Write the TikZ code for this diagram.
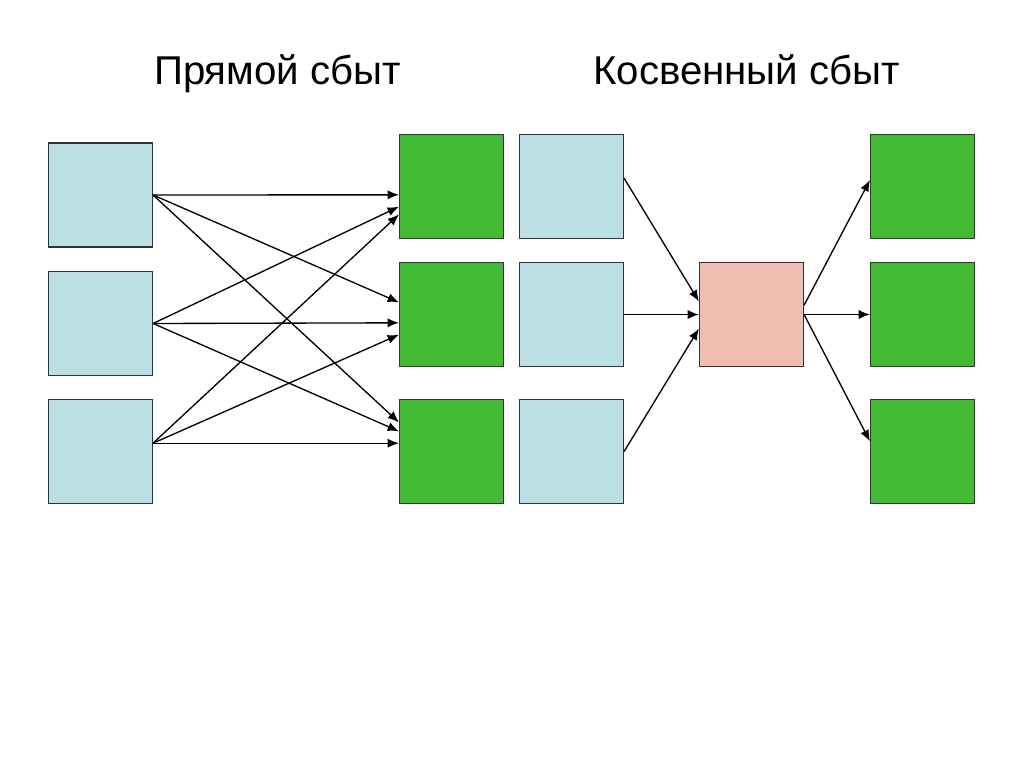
\documentclass[tikz,border=0pt]{standalone}
\usepackage{fontspec}
\setmainfont{Liberation Sans}
\usetikzlibrary{arrows.meta, positioning}
\definecolor{boxblue}{RGB}{187,224,227}
\definecolor{boxgreen}{RGB}{66,186,52}
\definecolor{boxpink}{RGB}{242,189,177}

\begin{document}
\begin{tikzpicture}[x=0.025cm, y=-0.025cm,
        sq/.style={draw=black!80, line width=0.8pt, inner sep=0pt,
            minimum width=2.6cm, minimum height=2.6cm},
        buyer/.style={sq, fill=boxblue},
        seller/.style={sq, fill=boxgreen},
        mid/.style={sq, fill=boxpink},
        sale/.style={line width=0.95pt, -{Latex[length=8pt, width=6.5pt]}},
        title/.style={anchor=base, font=\fontsize{28.6}{34}\selectfont}]
    \useasboundingbox (0,0) rectangle (1024,767);
    \node[title] (t1) at (277.5,85) {Прямой сбыт};
    \node[title] (t2) at (746.5,85) {Косвенный сбыт};
        \node[buyer] (b1) at (100.5,195) {};
        \node[buyer] (b2) at (100.5,323.5) {};
        \node[buyer] (b3) at (100.5,451.5) {};
        \node[seller] (g1) at (451.5,186.5) {};
        \node[seller] (g2) at (451.5,314.5) {};
        \node[seller] (g3) at (451.5,451.5) {};
        \draw[sale] (b1.east) -- (g1.189);
        \draw[sale] (b1.east) -- (g2.167);
        \draw[sale] (b1.east) -- (g3.151);
        \draw[sale] (b2.east) -- (g1.201);
        \draw[sale] (b2.east) -- (g2.189);
        \draw[sale] (b2.east) -- (g3.159);
        \draw[sale] (b3.9) -- (g1.208);
        \draw[sale] (b3.9) -- (g2.201);
        \draw[sale] (b3.9) -- (g3.171);
    \begin{scope}
        \node[buyer] (c1) at (571.5,186.5) {};
        \node[buyer] (c2) at (571.5,314.5) {};
        \node[buyer] (c3) at (571.5,451.5) {};
        \node[mid] (p) at (751.5,314.5) {};
        \node[seller] (h1) at (922.5,186.5) {};
        \node[seller] (h2) at (922.5,314.5) {};
        \node[seller] (h3) at (922.5,451.5) {};
        \draw[sale] (c1.9) -- (p.166);
        \draw[sale] (c2.east) -- (p.west);
        \draw[sale] (c3.east) -- (p.195);
        \draw[sale] (p.10) -- (h1.173);
        \draw[sale] (p.east) -- (h2.west);
        \draw[sale] (p.east) -- (h3.169);
    \end{scope}
\end{tikzpicture}
\end{document}
